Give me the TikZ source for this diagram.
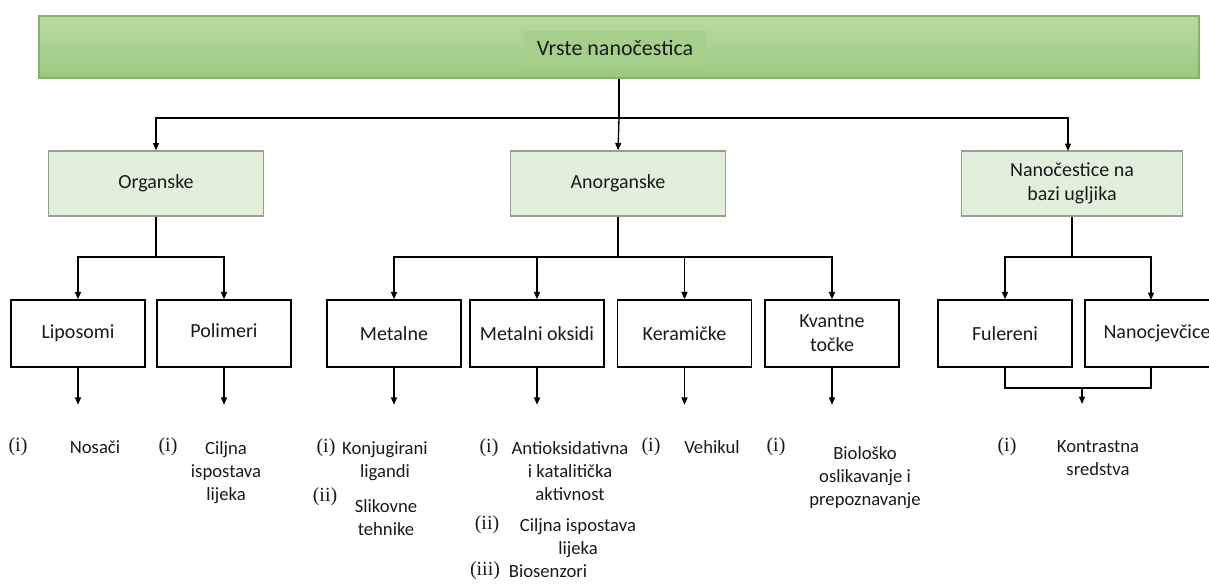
\documentclass[tikz,border=0pt]{standalone}
\usepackage{fontspec}
\setmainfont{Carlito}
\newfontfamily\romfont{Liberation Serif}
\usetikzlibrary{arrows.meta}
\definecolor{topA}{HTML}{B8D9A4}
\definecolor{topB}{HTML}{9CC97F}
\definecolor{topLine}{HTML}{86B26A}
\definecolor{hiFill}{HTML}{A7CF8C}
\definecolor{lvFill}{HTML}{E2EFDA}
\definecolor{lvLine}{HTML}{9B9B9B}
\definecolor{txtc}{HTML}{1A1A1A}
\begin{document}
\begin{tikzpicture}[x=0.75pt,y=-0.75pt,
  txt/.style={font=\fontsize{14}{17.25}\selectfont, text=txtc, align=center, inner sep=0pt},
  num/.style={font=\romfont\fontsize{15}{17.25}\selectfont, text=txtc, inner sep=0pt},
  topbox/.style={draw=topLine, line width=1pt, top color=topA, bottom color=topB, minimum width=870pt, minimum height=46.5pt, inner sep=0pt},
  hibox/.style={fill=hiFill, minimum width=136pt, minimum height=25pt, inner sep=0pt, text=txtc, font=\fontsize{16.5}{19}\selectfont},
  midbox/.style={draw=lvLine, line width=1pt, fill=lvFill, minimum height=48.75pt, align=center, text=txtc, font=\fontsize{15}{18}\selectfont},
  leafbox/.style={draw=black, line width=1.1pt, fill=white, minimum width=100.5pt, minimum height=50.25pt, align=center, text=txtc, font=\fontsize{15}{18}\selectfont},
  conn/.style={line width=1pt},
  arr/.style={conn, -{Triangle[length=5.5pt,width=4.5pt]}},
]
\useasboundingbox (0,0) rectangle (1209,587);

% top
\node[topbox] (top) at (619,47) {};
\node[hibox] (toptxt) at (615,48) {Vrste nanočestica};

% level 2
\node[midbox, minimum width=161.25pt] (org) at (156,183.5) {Organske};
\node[midbox, minimum width=161.25pt] (anorg) at (618,183.5) {Anorganske};
\node[midbox, minimum width=165.75pt] (carb) at (1072,183.5) {Nanočestice na\\bazi ugljika};

% level 3
\node[leafbox] (lip) at (78,333.5) {Liposomi};
\node[leafbox, text depth=5pt] (pol) at (224,333.5) {Polimeri};
\node[leafbox] (met) at (394,333.5) {Metalne};
\node[leafbox] (mox) at (537,333.5) {Metalni oksidi};
\node[leafbox] (ker) at (684.5,333.5) {Keramičke};
\node[leafbox] (kva) at (832,333.5) {Kvantne\\točke};
\node[leafbox] (ful) at (1005,333.5) {Fulereni};
\node[leafbox, minimum width=108pt] (nan) at (1157,333.5) {Nanocjevčice};

% connectors top -> level 2
\coordinate (b1) at (top.south |- 0,118);
\coordinate (b1l) at (156,118);
\coordinate (b1r) at (1068,118);
\coordinate (carbIn) at (1068,151);
\draw[conn] (top.south) -- (b1);
\draw[arr] (b1) -- (anorg.north);
\draw[arr] (b1) -- (b1l) -- (org.north);
\draw[arr] (b1) -- (b1r) -- (carbIn);

% organske
\coordinate (b2) at (156,257);
\draw[conn] (org.south) -- (b2);
\draw[arr] (b2) -| (lip.north);
\draw[arr] (b2) -| (pol.north);

% anorganske
\coordinate (b3) at (618,257);
\draw[conn] (anorg.south) -- (b3);
\draw[arr] (b3) -| (met.north);
\draw[arr] (b3) -| (mox.north);
\draw[arr] (b3) -| (ker.north);
\draw[arr] (b3) -| (kva.north);

% carbon
\coordinate (b4) at (1072,257);
\coordinate (nanIn) at (1151,300);
\coordinate (nanOut) at (1151,367);
\draw[conn] (carb.south) -- (b4);
\draw[arr] (b4) -| (ful.north);
\draw[arr] (b4) -| (nanIn);

% leaf arrows
\draw[arr] (lip.south) -- ++(0,37) coordinate (lipE);
\draw[arr] (pol.south) -- ++(0,37) coordinate (polE);
\draw[arr] (met.south) -- ++(0,37) coordinate (metE);
\draw[arr] (mox.south) -- ++(0,37) coordinate (moxE);
\draw[arr] (ker.south) -- ++(0,37) coordinate (kerE);
\draw[arr] (kva.south) -- ++(0,37) coordinate (kvaE);

\coordinate (cj1) at (1005,388);
\coordinate (cj2) at (1151,388);
\coordinate (cjm) at (1082,388);
\coordinate (cjE) at (1082,404);
\draw[conn] (ful.south) -- (cj1) -- (cj2) -- (nanOut);
\draw[arr] (cjm) -- (cjE);

% applications
\node[num] (n1) at (18,447) {(i)};
\node[txt] (t1) at (95,447) {Nosači};

\node[num] (n2) at (168,447) {(i)};
\node[txt, anchor=north] (t2) at (226,441) {Ciljna\\ispostava\\lijeka};

\node[num] (n3a) at (326,448) {(i)};
\node[txt, anchor=north] (t3a) at (385,441) {Konjugirani\\ligandi};
\node[num] (n3b) at (325,497) {(ii)};
\node[txt, anchor=north] (t3b) at (386,499) {Slikovne\\tehnike};

\node[num] (n4a) at (489,448) {(i)};
\node[txt, anchor=north] (t4a) at (570,441) {Antioksidativna\\i katalitička\\aktivnost};
\node[num] (n4b) at (487,525) {(ii)};
\node[txt, anchor=north] (t4b) at (578,518) {Ciljna ispostava\\lijeka};
\node[num] (n4c) at (485,571) {(iii)};
\node[txt] (t4c) at (548,571) {Biosenzori};

\node[num] (n5) at (651,447) {(i)};
\node[txt] (t5) at (712,447) {Vehikul};

\node[num] (n6) at (776,447) {(i)};
\node[txt, anchor=north] (t6) at (865,446) {Biološko\\oslikavanje i\\prepoznavanje};

\node[num] (n7) at (1007,447) {(i)};
\node[txt, anchor=north] (t7) at (1098,440) {Kontrastna\\sredstva};
\end{tikzpicture}
\end{document}
